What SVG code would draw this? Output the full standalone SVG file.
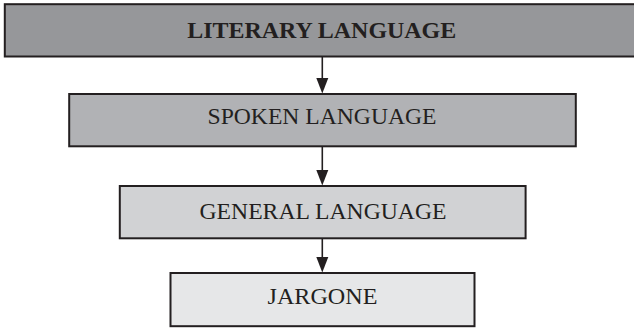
<svg xmlns="http://www.w3.org/2000/svg" width="634" height="328" viewBox="0 0 634 328">
<style>
.box{stroke:#231f20;stroke-width:2}
.t{font-family:"Liberation Serif","Times New Roman",serif;font-size:24px;fill:#231f20;text-anchor:middle}
.b{font-weight:bold}
.conn{stroke:#231f20;stroke-width:1.6;fill:none}
.head{fill:#231f20}
</style>
<rect width="634" height="328" fill="#ffffff"/>
<g id="connectors">
<line class="conn" x1="322.3" y1="57" x2="322.3" y2="78"/>
<path class="head" d="M316.3,78 L328.3,78 L322.3,93.5 Z"/>
<line class="conn" x1="322.3" y1="147" x2="322.3" y2="170"/>
<path class="head" d="M316.3,170 L328.3,170 L322.3,185.5 Z"/>
<line class="conn" x1="322.3" y1="239" x2="322.3" y2="257"/>
<path class="head" d="M316.3,257 L328.3,257 L322.3,272.5 Z"/>
</g>
<g id="literary">
<rect class="box" x="4.8" y="4.2" width="640" height="52.3" fill="#96979a" stroke-width="2.6"/>
<text class="t b" x="321.7" y="37.5" textLength="269" lengthAdjust="spacingAndGlyphs">LITERARY LANGUAGE</text>
</g>
<g id="spoken">
<rect class="box" x="69.2" y="94" width="506.6" height="52.3" fill="#b1b2b5"/>
<text class="t" x="322" y="124" textLength="229" lengthAdjust="spacingAndGlyphs">SPOKEN LANGUAGE</text>
</g>
<g id="general">
<rect class="box" x="119.8" y="186" width="405.8" height="52.3" fill="#d1d2d4"/>
<text class="t" x="323" y="219" textLength="247" lengthAdjust="spacingAndGlyphs">GENERAL LANGUAGE</text>
</g>
<g id="jargone">
<rect class="box" x="170.5" y="273" width="304" height="53.2" fill="#e6e7e8"/>
<text class="t" x="322.5" y="303.5" textLength="110" lengthAdjust="spacingAndGlyphs">JARGONE</text>
</g>
</svg>
